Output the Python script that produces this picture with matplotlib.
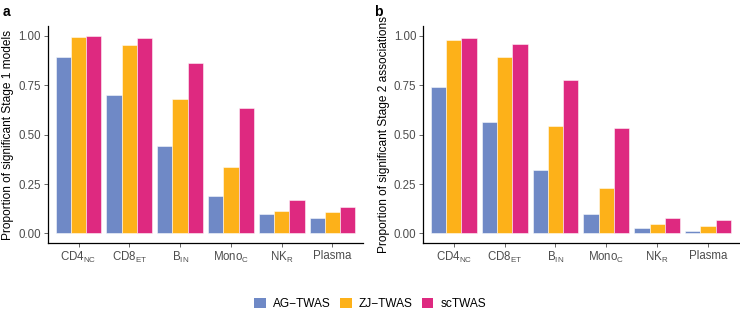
import numpy as np
import matplotlib
matplotlib.use("Agg")
import matplotlib.pyplot as plt
from matplotlib.patches import Patch

plt.rcParams["font.family"] = ["Liberation Sans", "DejaVu Sans"]
plt.rcParams["mathtext.fontset"] = "custom"
plt.rcParams["mathtext.rm"] = "Liberation Sans"
plt.rcParams["mathtext.it"] = "Liberation Sans:italic"
plt.rcParams["mathtext.bf"] = "Liberation Sans:bold"

cell_types = [r"CD4$_{\rm NC}$", r"CD8$_{\rm ET}$", r"B$_{\rm IN}$",
              r"Mono$_{\rm C}$", r"NK$_{\rm R}$", "Plasma"]
methods = ["AG\u2212TWAS", "ZJ\u2212TWAS", "scTWAS"]
colors = ["#6F89C6", "#FDB119", "#DE2980"]

# panel a: proportion of significant Stage 1 models
stage1_ag = [0.894, 0.703, 0.441, 0.190, 0.096, 0.078]
stage1_zj = [0.997, 0.954, 0.681, 0.338, 0.111, 0.106]
stage1_sc = [1.000, 0.988, 0.863, 0.637, 0.167, 0.133]

# panel b: proportion of significant Stage 2 associations
stage2_ag = [0.740, 0.562, 0.322, 0.100, 0.027, 0.013]
stage2_zj = [0.979, 0.892, 0.544, 0.232, 0.045, 0.035]
stage2_sc = [0.990, 0.958, 0.777, 0.534, 0.079, 0.070]

fig = plt.figure(figsize=(7.4, 3.09), dpi=100)
ax_a = fig.add_axes([0.0649, 0.2129, 0.4256, 0.7026])
ax_b = fig.add_axes([0.5720, 0.2129, 0.4260, 0.7026])

width = 0.3
x = np.arange(len(cell_types))


def draw_panel(ax, series, ylabel):
    for i, (vals, col) in enumerate(zip(series, colors)):
        ax.bar(x + (i - 1) * width, vals, width=width, color=col,
               edgecolor=(1, 1, 1, 0.6), linewidth=0.6)
    ax.set_xlim(-0.6, len(cell_types) - 0.4)
    ax.set_ylim(-0.05, 1.05)
    ax.set_yticks([0, 0.25, 0.5, 0.75, 1.0])
    ax.set_yticklabels(["0.00", "0.25", "0.50", "0.75", "1.00"])
    ax.set_xticks(x)
    ax.set_xticklabels(cell_types)
    ax.tick_params(axis="both", colors="#4D4D4D", labelsize=8.3, length=3,
                   width=0.6, pad=2)
    for lbl in ax.get_xticklabels() + ax.get_yticklabels():
        lbl.set_color("#4D4D4D")
    for s in ["top", "right"]:
        ax.spines[s].set_visible(False)
    for s in ["left", "bottom"]:
        ax.spines[s].set_linewidth(0.9)
        ax.spines[s].set_color("black")
    ax.set_ylabel(ylabel, fontsize=8.6, color="black", labelpad=3)


draw_panel(ax_a, [stage1_ag, stage1_zj, stage1_sc],
           "Proportion of significant Stage 1 models")
draw_panel(ax_b, [stage2_ag, stage2_zj, stage2_sc],
           "Proportion of significant Stage 2 associations")

fig.text(0.003, 0.985, "a", fontsize=10, fontweight="bold", va="top", ha="left")
fig.text(0.505, 0.985, "b", fontsize=10, fontweight="bold", va="top", ha="left")

handles = [Patch(facecolor=c, edgecolor="none", label=m) for m, c in zip(methods, colors)]
fig.legend(handles=handles, loc="lower center", bbox_to_anchor=(0.5, -0.038),
           ncol=3, frameon=False, fontsize=8.6, handlelength=1.0, handleheight=1.0,
           handletextpad=0.6, columnspacing=0.75)

fig.savefig("out.png", dpi=100)
